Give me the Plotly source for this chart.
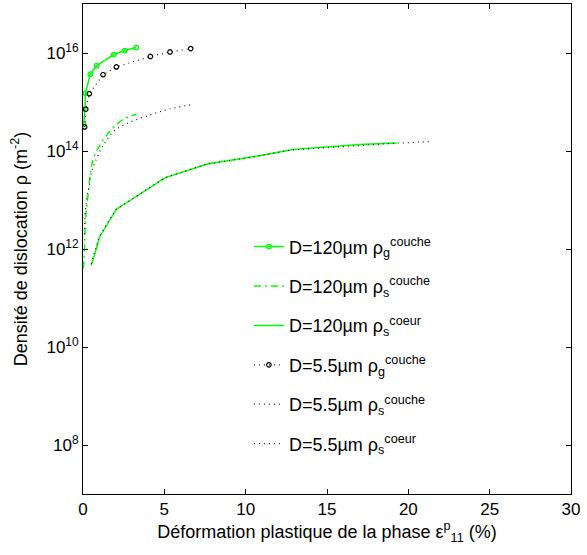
import plotly.graph_objects as go

# ---- data ----
x_g120 = [0.04, 0.12, 0.15, 0.45, 0.84, 1.89, 2.56, 3.28]
rho_g120 = [3.5e14, 7.2e14, 1.5e15, 3.7e15, 5.5e15, 9.3e15, 1.12e16, 1.29e16]

x_s120 = [0.02, 0.06, 0.10, 0.17, 0.31, 0.61, 1.23, 1.95, 2.56, 3.28]
rho_s120 = [4.0e11, 6.0e11, 1.3e12, 4.6e12, 1.26e13, 6.5e13, 1.66e14, 3.2e14, 4.6e14, 5.6e14]

x_c120 = [0.51, 1.03, 2.05, 5.1, 7.7, 10.9, 12.9, 17.0, 19.3]
rho_c120 = [4.6e11, 1.78e12, 6.5e12, 2.9e13, 5.5e13, 8.1e13, 1.07e14, 1.35e14, 1.45e14]

x_g55 = [0.10, 0.17, 0.39, 1.23, 2.05, 4.14, 5.35, 6.62]
rho_g55 = [3.1e14, 7.1e14, 1.48e15, 3.6e15, 5.2e15, 8.5e15, 1.05e16, 1.23e16]

x_s55 = [0.08, 0.15, 0.25, 0.37, 0.52, 0.75, 1.13, 1.85, 2.67, 4.1, 5.33, 6.72]
rho_s55 = [2.0e12, 6.2e12, 1.17e13, 1.86e13, 3.7e13, 6.0e13, 1.12e14, 2.45e14, 3.6e14, 5.4e14, 7.2e14, 8.9e14]

x_c55 = [0.5, 1.0, 2.0, 5.0, 7.6, 10.8, 12.8, 17.0, 19.3, 21.3]
rho_c55 = [5.0e11, 1.78e12, 6.3e12, 2.8e13, 5.4e13, 7.9e13, 1.05e14, 1.32e14, 1.45e14, 1.55e14]

names = [
    "D=120µm ρ<sub>g</sub><sup>couche</sup>",
    "D=120µm ρ<sub>s</sub><sup>couche</sup>",
    "D=120µm ρ<sub>s</sub><sup>coeur</sup>",
    "D=5.5µm ρ<sub>g</sub><sup>couche</sup>",
    "D=5.5µm ρ<sub>s</sub><sup>couche</sup>",
    "D=5.5µm ρ<sub>s</sub><sup>coeur</sup>",
]

y_tickvals = [1e8, 1e10, 1e12, 1e14, 1e16]
y_ticktext = ["10<sup>8</sup>", "10<sup>10</sup>", "10<sup>12</sup>", "10<sup>14</sup>", "10<sup>16</sup>"]
x_tickvals = [0, 5, 10, 15, 20, 25, 30]

GREEN = "#00ff00"
DOTC = "#222222"
DOT = "1px,4px"

fig = go.Figure()
fig.add_trace(go.Scatter(x=x_g120, y=rho_g120, name=names[0], legendgroup="a", mode="lines+markers",
                         line=dict(color=GREEN, width=1.5),
                         marker=dict(symbol="circle-open", size=4.5, color=GREEN, line=dict(width=1.3, color=GREEN))))
fig.add_trace(go.Scatter(x=x_s120, y=rho_s120, name=names[1], legendgroup="b", mode="lines",
                         line=dict(color=GREEN, width=1.5, dash="7px,4px,2px,4px"), line_shape="spline"))
fig.add_trace(go.Scatter(x=x_c120, y=rho_c120, name=names[2], legendgroup="c", mode="lines",
                         line=dict(color=GREEN, width=1.5)))
fig.add_trace(go.Scatter(x=x_g55, y=rho_g55, name=names[3], legendgroup="d", mode="lines+markers",
                         line=dict(color=DOTC, width=1.2, dash=DOT),
                         marker=dict(symbol="circle-open", size=4.5, color="black", line=dict(width=1.2, color="black"))))
fig.add_trace(go.Scatter(x=x_s55, y=rho_s55, name=names[4], legendgroup="e", mode="lines",
                         line=dict(color=DOTC, width=1.2, dash=DOT), line_shape="spline"))
fig.add_trace(go.Scatter(x=x_c55, y=rho_c55, name=names[5], legendgroup="f", mode="lines",
                         line=dict(color=DOTC, width=1.2, dash=DOT)))

axis_common = dict(showline=True, linecolor="black", linewidth=1, mirror="ticks",
                   ticks="inside", ticklen=5, tickcolor="black", showgrid=False, zeroline=False)

fig.update_layout(
    width=587, height=555,
    margin=dict(l=83, r=16, t=4, b=61),
    paper_bgcolor="white", plot_bgcolor="white",
    font=dict(family="Liberation Sans, Arial, sans-serif", size=18, color="black"),
    xaxis=dict(range=[0, 30], tickvals=x_tickvals, tickfont=dict(size=17),
               title=dict(text="Déformation plastique de la phase ε<sup>p</sup><sub>11</sub> (%)",
                          font=dict(size=18), standoff=2),
               automargin=False, **axis_common),
    yaxis=dict(type="log", range=[7, 17], tickvals=y_tickvals, ticktext=y_ticktext,
               tickfont=dict(size=17),
               title=dict(text="Densité de dislocation ρ (m<sup>-2</sup>)", font=dict(size=18), standoff=14),
               automargin=False, **axis_common),
    legend=dict(x=0.34, y=0.542, xanchor="left", yanchor="top", bgcolor="rgba(0,0,0,0)",
                font=dict(size=18), borderwidth=0, tracegroupgap=13),
    showlegend=True,
)

fig.write_html("out.html", config={"displayModeBar": False},
               post_script="document.body.style.margin='0px';")
